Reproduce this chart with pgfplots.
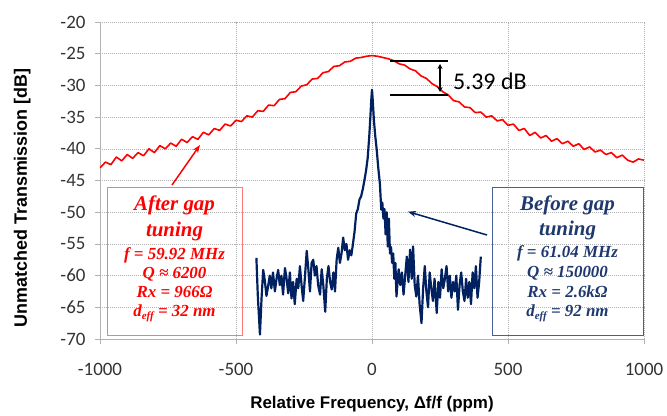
\documentclass[border=0pt]{standalone}
\usepackage{pgfplots}
\pgfplotsset{compat=1.18}
\usetikzlibrary{arrows.meta}
\usepackage{fontspec}
\setmainfont{Carlito}
\newfontfamily\arialf{Liberation Sans}
\newfontfamily\timesf{Liberation Serif}
\definecolor{redc}{RGB}{255,0,0}
\definecolor{navyc}{RGB}{0,32,96}
\definecolor{navytext}{RGB}{31,56,110}
\definecolor{redbox}{RGB}{255,120,120}
\definecolor{bluebox}{RGB}{70,95,150}
\begin{document}
\begin{tikzpicture}
\begin{axis}[
  at={(0,0)}, anchor=south west,
  width=544bp, height=317bp, scale only axis,
  xmin=-1000, xmax=1000, ymin=-70, ymax=-20,
  xtick={-1000,-500,0,500,1000},
  ytick={-70,-65,-60,-55,-50,-45,-40,-35,-30,-25,-20},
  grid=major,
  major grid style={gray!60, line width=0.6pt, dash pattern=on 1pt off 1pt},
  axis x line*=bottom, axis y line*=left,
  axis line style={gray!60, line width=0.8pt, -},
  tick style={gray!60, line width=0.8pt},
  tick align=outside, major tick length=5bp,
  /pgf/number format/assume math mode=true,
  /pgf/number format/1000 sep={},
  ticklabel style={font=\fontsize{19}{22}\selectfont, text=black!80},
  yticklabel style={xshift=-6bp},
  xticklabel style={yshift=-16bp},
  xlabel={\arialf\bfseries Relative Frequency, Δf/f (ppm)},
  ylabel={\arialf\bfseries Unmatched Transmission [dB]},
  xlabel style={at={(axis description cs:0.5,-0.205)}, anchor=center, font=\fontsize{17}{20}\selectfont},
  ylabel style={at={(axis description cs:-0.143,0.445)}, anchor=center, font=\fontsize{18}{20}\selectfont},
]
\addplot[redc, line width=1.6pt, line join=round] coordinates {
(-1000,-43.0) (-980,-42.1) (-960,-42.5) (-940,-41.3) (-920,-41.9) (-900,-40.9)
(-880,-41.5) (-860,-40.6) (-840,-41.1) (-820,-40.0) (-800,-40.6) (-780,-39.5)
(-760,-40.0) (-740,-39.1) (-720,-39.6) (-700,-38.5) (-680,-39.0) (-660,-38.1)
(-640,-38.5) (-620,-37.4) (-600,-37.8) (-580,-36.8) (-560,-37.1) (-540,-36.1)
(-520,-36.4) (-500,-35.5) (-480,-35.7) (-460,-34.8) (-440,-35.0) (-420,-34.0)
(-400,-34.1) (-380,-33.1) (-360,-33.2) (-340,-32.2) (-320,-32.1) (-300,-31.1)
(-280,-31.0) (-260,-30.1) (-240,-29.9) (-220,-29.0) (-200,-28.9) (-180,-28.0)
(-160,-27.8) (-140,-27.0) (-120,-26.9) (-100,-26.3) (-80,-26.2) (-60,-25.7)
(-40,-25.6) (-20,-25.4) (0,-25.3) (20,-25.4) (40,-25.6) (60,-25.8)
(80,-26.1) (100,-26.6) (120,-26.8) (140,-27.4) (160,-27.7) (180,-28.5)
(200,-28.9) (220,-29.7) (240,-30.2) (260,-31.0) (280,-31.5) (300,-32.4)
(320,-32.6) (340,-33.4) (360,-33.5) (380,-34.3) (400,-34.2) (420,-35.0)
(440,-34.8) (460,-35.6) (480,-35.4) (500,-36.3) (520,-36.1) (540,-37.1)
(560,-36.8) (580,-37.9) (600,-37.4) (620,-38.3) (640,-37.9) (660,-38.8)
(680,-38.4) (700,-39.2) (720,-38.8) (740,-39.6) (760,-39.2) (780,-40.1)
(800,-39.7) (820,-40.5) (840,-40.2) (860,-40.9) (880,-40.6) (900,-41.4)
(920,-41.0) (940,-41.8) (960,-42.1) (980,-41.6) (1000,-41.8)
};
\addplot[navyc, line width=2.2pt, line join=round] coordinates {
(-425,-57.2) (-420,-63.0) (-412,-69.3) (-406,-63.5) (-400,-59.1) (-394,-60.8)
(-388,-63.2) (-382,-61.7) (-376,-60.0) (-370,-62.0) (-364,-59.5) (-357,-62.5)
(-351,-60.5) (-345,-59.1) (-339,-61.5) (-333,-60.0) (-327,-63.0) (-320,-58.8)
(-314,-60.5) (-308,-62.8) (-302,-59.5) (-296,-63.6) (-290,-61.0) (-284,-64.5)
(-277,-60.5) (-271,-62.0) (-265,-58.5) (-259,-61.5) (-253,-64.0) (-247,-60.5)
(-240,-56.1) (-234,-59.0) (-228,-62.5) (-222,-58.0) (-216,-57.5) (-210,-60.0)
(-204,-58.5) (-198,-61.5) (-191,-63.0) (-185,-59.0) (-179,-61.5) (-172,-65.7)
(-166,-60.5) (-160,-58.5) (-154,-61.0) (-148,-62.2) (-142,-59.5) (-136,-62.5)
(-130,-57.5) (-124,-55.6) (-118,-58.0) (-112,-56.5) (-106,-54.0) (-100,-56.0)
(-94,-55.0) (-88,-57.5) (-82,-56.0) (-76,-56.8) (-70,-55.0) (-64,-53.0)
(-58,-50.2) (-52,-49.5) (-46,-48.0) (-40,-47.5) (-34,-46.4) (-28,-45.0)
(-22,-43.5) (-16,-41.5) (-10,-38.0) (-6,-35.0) (-3,-32.5) (0,-30.7)
(3,-32.5) (7,-35.5) (12,-38.0) (17,-40.0) (23,-43.0) (29,-45.5)
(34,-49.6) (38,-48.5) (42,-51.0) (46,-49.5) (50,-53.5) (54,-50.0)
(58,-55.4) (62,-51.0) (66,-56.5) (70,-55.5) (74,-58.0) (78,-56.5)
(82,-60.5) (86,-58.0) (90,-63.3) (94,-61.0) (98,-59.0) (104,-61.5)
(110,-59.5) (116,-63.0) (122,-60.0) (128,-57.0) (134,-61.0) (140,-55.9)
(146,-60.5) (151,-55.4) (157,-61.5) (163,-63.3) (169,-60.0) (175,-64.5)
(182,-67.5) (188,-62.0) (194,-58.5) (200,-62.5) (206,-65.0) (212,-59.5)
(218,-62.0) (224,-64.0) (230,-60.5) (238,-65.9) (244,-61.0) (250,-63.5)
(256,-59.0) (262,-62.0) (268,-60.5) (274,-58.5) (280,-62.5) (286,-60.0)
(292,-63.5) (298,-61.0) (304,-62.5) (310,-60.0) (316,-65.4) (322,-61.5)
(328,-59.5) (334,-62.5) (340,-64.0) (346,-60.5) (352,-63.5) (358,-61.0)
(364,-64.5) (370,-59.5) (376,-62.0) (382,-58.5) (388,-63.5) (394,-61.0)
(400,-57.0)
};
\end{axis}
% 5.39 dB annotation
\draw[black, line width=1.8pt] (290bp,278bp) -- (348bp,278bp);
\draw[black, line width=1.8pt] (290bp,244bp) -- (348bp,244bp);
\draw[black, line width=1.2pt, {Stealth[length=5bp,width=5bp]}-{Stealth[length=5bp,width=5bp]}] (340bp,275bp) -- (340bp,247bp);
\node[anchor=west, inner sep=0pt, font=\fontsize{24}{26}\selectfont] at (353bp,258bp) {5.39 dB};
% boxes
\draw[redbox, line width=0.8pt] (7bp,4bp) rectangle (142bp,152bp);
\draw[bluebox, line width=0.8pt] (392bp,4bp) rectangle (543bp,152bp);
% arrows
\draw[redc, line width=1.5pt, -{Stealth[length=8bp,width=6bp]}] (72bp,154bp) -- (100bp,194bp);
\draw[navyc, line width=1.5pt, -{Stealth[length=8bp,width=6bp]}] (387bp,104bp) -- (308bp,127.3bp);
% red text
\begin{scope}[every node/.style={text=redc, inner sep=0pt, anchor=center}]
\node[font=\timesf\bfseries\itshape\fontsize{21}{22}\selectfont] at (74.5bp,134bp) {After gap};
\node[font=\timesf\bfseries\itshape\fontsize{21}{22}\selectfont] at (74.5bp,108bp) {tuning};
\node[font=\timesf\bfseries\itshape\fontsize{17}{18}\selectfont] at (74.5bp,84bp) {f = 59.92 MHz};
\node[font=\timesf\bfseries\itshape\fontsize{17}{18}\selectfont] at (74.5bp,65bp) {Q ≈ 6200};
\node[font=\timesf\bfseries\itshape\fontsize{17}{18}\selectfont] at (74.5bp,47bp) {Rx = 966Ω};
\node[font=\timesf\bfseries\itshape\fontsize{17}{18}\selectfont] at (74.5bp,26bp) {d\raisebox{-0.35ex}{\fontsize{11}{11}\selectfont eff} = 32 nm};
\end{scope}
% blue text
\begin{scope}[every node/.style={text=navytext, inner sep=0pt, anchor=center}]
\node[font=\timesf\bfseries\itshape\fontsize{21}{22}\selectfont] at (467.5bp,134bp) {Before gap};
\node[font=\timesf\bfseries\itshape\fontsize{21}{22}\selectfont] at (467.5bp,109bp) {tuning};
\node[font=\timesf\bfseries\itshape\fontsize{17}{18}\selectfont] at (467.5bp,86bp) {f = 61.04 MHz};
\node[font=\timesf\bfseries\itshape\fontsize{17}{18}\selectfont] at (467.5bp,66bp) {Q ≈ 150000};
\node[font=\timesf\bfseries\itshape\fontsize{17}{18}\selectfont] at (467.5bp,47bp) {Rx = 2.6kΩ};
\node[font=\timesf\bfseries\itshape\fontsize{17}{18}\selectfont] at (467.5bp,26bp) {d\raisebox{-0.35ex}{\fontsize{11}{11}\selectfont eff} = 92 nm};
\end{scope}
\pgfresetboundingbox
\path[use as bounding box] (-100bp,-77bp) rectangle (567bp,339bp);
\end{tikzpicture}
\end{document}
